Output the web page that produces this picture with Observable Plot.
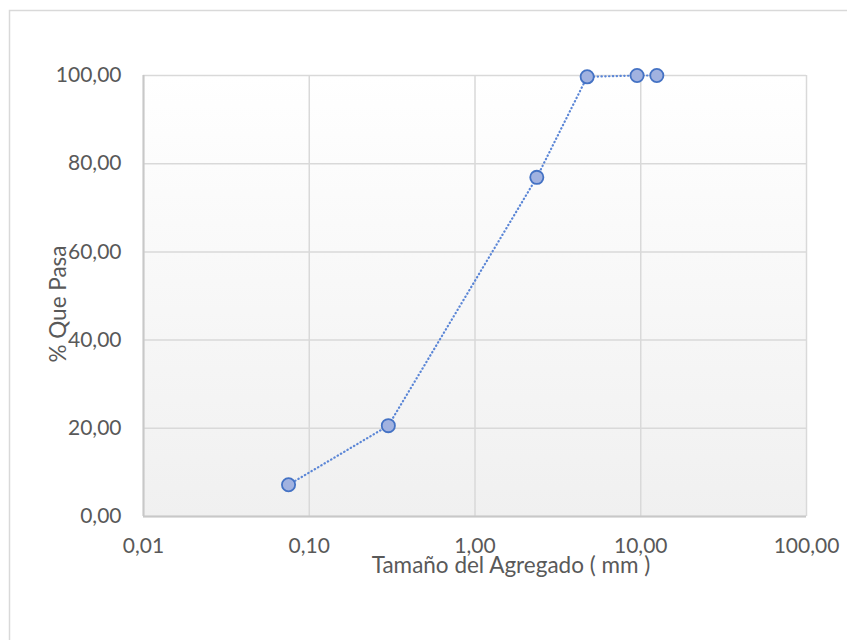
<!DOCTYPE html>
<html>
<head>
<meta charset="utf-8">
<script src="https://cdn.jsdelivr.net/npm/d3@7"></script>
<script src="https://cdn.jsdelivr.net/npm/@observablehq/plot@0.6"></script>
<style>
  html, body { margin: 0; padding: 0; background: #fff; }
  #chart { position: relative; width: 847px; height: 640px; overflow: hidden; }
  #chart svg { display: block; }
</style>
</head>
<body>
<div id="chart"></div>
<script>
// Data
const sizes = [0.075, 0.3, 2.36, 4.75, 9.5, 12.5];      // Tamaño del Agregado (mm)
const passing = [7.2, 20.6, 76.9, 99.7, 100, 100];       // % Que Pasa
const xTicks = [0.01, 0.1, 1, 10, 100];
const yTicks = [0, 20, 40, 60, 80, 100];
const xTitle = "Tamaño del Agregado ( mm )";
const yTitle = "% Que Pasa";

const data = sizes.map((s, i) => ({size: s, pass: passing[i]}));
const fmt = d3.format(".2f");
const comma = v => fmt(v).replace(".", ",");

const W = 847, H = 640;
const mL = 143, mR = 41, mT = 75, mB = 124;
const blue = "#4472c4";
const font = "Lato, 'Open Sans', sans-serif";

const chart = Plot.plot({
  width: W,
  height: H,
  marginLeft: mL,
  marginRight: mR,
  marginTop: mT,
  marginBottom: mB,
  style: {fontFamily: font, fontSize: "21px", color: "#595959", background: "transparent", overflow: "visible"},
  x: {type: "log", domain: [0.01, 100], ticks: xTicks, tickFormat: comma, label: null},
  y: {domain: [0, 100], ticks: yTicks, tickFormat: comma, label: null},
  marks: [
    Plot.frame({fill: "url(#bgGrad)", stroke: "none"}),
    Plot.gridX(xTicks, {stroke: "#d9d9d9", strokeOpacity: 1, strokeWidth: 1.5}),
    Plot.gridY(yTicks, {stroke: "#d9d9d9", strokeOpacity: 1, strokeWidth: 1.5}),
    Plot.ruleX([0.01], {stroke: "#c8c8c8", strokeWidth: 2}),
    Plot.ruleY([0], {stroke: "#c8c8c8", strokeWidth: 2}),
    Plot.axisX(xTicks, {tickSize: 0, tickPadding: 22, tickFormat: comma, fill: "#595959", fontSize: 21, label: null}),
    Plot.axisY(yTicks, {tickSize: 0, tickPadding: 22, tickFormat: comma, fill: "#595959", fontSize: 21, label: null}),
    Plot.line(data, {x: "size", y: "pass", stroke: "#5b86d6", strokeWidth: 2.2, strokeDasharray: "0.4,3.4", strokeLinecap: "round"}),
    Plot.dot(data, {x: "size", y: "pass", r: 6.6, fill: "#a1b2e0", stroke: blue, strokeWidth: 1.8}),
    Plot.text([xTitle], {frameAnchor: "bottom", dx: 36, dy: 56, fill: "#595959", fontSize: 22.5}),
    Plot.text([yTitle], {frameAnchor: "left", textAnchor: "middle", dx: -85, dy: 8, rotate: -90, fill: "#595959", fontSize: 22.5})
  ]
});

// gradient background for the plot area and outer chart border
const svgNS = "http://www.w3.org/2000/svg";
const defs = document.createElementNS(svgNS, "defs");
defs.innerHTML = `<linearGradient id="bgGrad" x1="0" y1="0" x2="0" y2="1">
  <stop offset="0" stop-color="#ffffff"/><stop offset="1" stop-color="#f0f0f0"/></linearGradient>`;
chart.insertBefore(defs, chart.firstChild);
const border = document.createElementNS(svgNS, "rect");
border.setAttribute("x", 9.5);
border.setAttribute("y", 10.5);
border.setAttribute("width", 900);
border.setAttribute("height", 700);
border.setAttribute("fill", "none");
border.setAttribute("stroke", "#d9d9d9");
border.setAttribute("stroke-width", 1.5);
chart.insertBefore(border, defs.nextSibling);

document.getElementById("chart").appendChild(chart);
</script>
</body>
</html>
